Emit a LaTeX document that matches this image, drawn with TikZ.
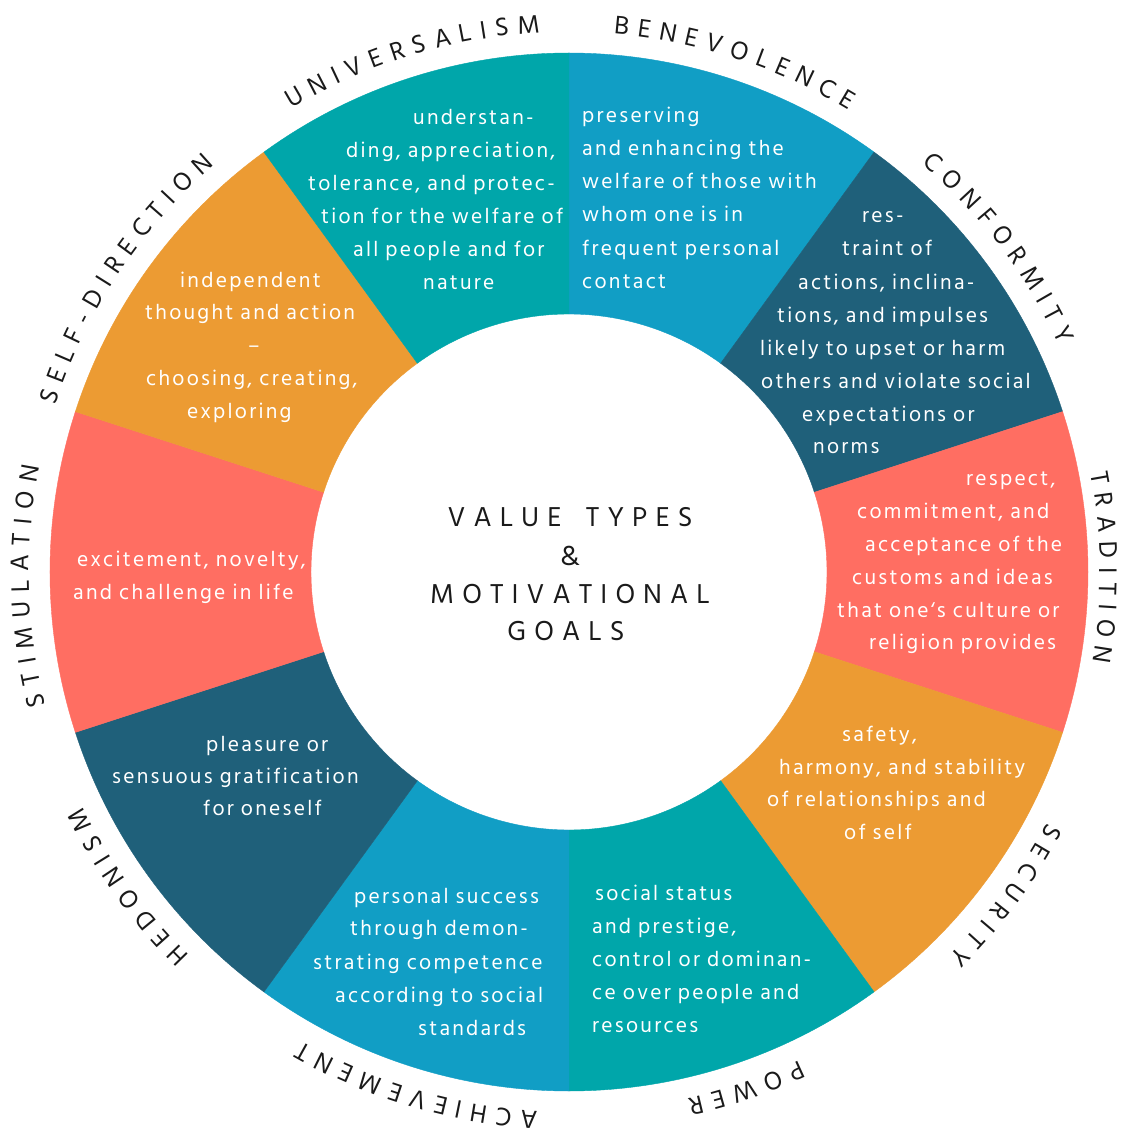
\documentclass[tikz,border=0pt]{standalone}
\usepackage{fontspec}
\newfontfamily\descfamily[LetterSpace=10.5]{Hind Siliguri}
\newfontfamily\titlefamily[LetterSpace=29]{Hind Siliguri}
\newfontfamily\ringfamily{Hind Siliguri}
\newcommand\labelfont{\ringfamily\fontsize{26}{26}\selectfont}

\definecolor{vteal}{RGB}{0,166,170}
\definecolor{vblue}{RGB}{17,158,197}
\definecolor{vdark}{RGB}{31,96,122}
\definecolor{vcoral}{RGB}{255,110,98}
\definecolor{vorange}{RGB}{236,155,51}
\definecolor{vink}{RGB}{26,26,26}

% widths of the capitals used along the ring, measured once
\makeatletter
\newbox\ringbox
\newcommand\measureletter[1]{%
  \setbox\ringbox=\hbox{\labelfont #1}%
  \expandafter\xdef\csname lw@#1\endcsname{\strip@pt\wd\ringbox}}
\makeatother
\AtBeginDocument{%
  \foreach \c in {A,B,C,D,E,F,G,H,I,J,K,L,M,N,O,P,Q,R,S,T,U,V,W,X,Y,Z,-}{%
    \measureletter{\c}}}

% letters set one by one along a clockwise arc outside the ring
\def\ringbase{540}
\def\ringtrack{8.5}
\newcommand\ringlabel[3]{% #1 name prefix, #2 middle angle, #3 letters
  \gdef\ringsum{0}%
  \foreach \ch in {#3}{%
    \edef\chw{\csname lw@\ch\endcsname}%
    \pgfmathsetmacro\rtmp{\ringsum+\chw+\ringtrack}%
    \global\let\ringsum\rtmp
  }%
  \pgfmathsetmacro\rtmp{-(\ringsum-\ringtrack)/2}%
  \global\let\ringpos\rtmp
  \foreach \ch [count=\k] in {#3}{%
    \edef\chw{\csname lw@\ch\endcsname}%
    \pgfmathsetmacro\chang{#2-(\ringpos+0.5*\chw)/\ringbase*57.29578}%
    \pgfmathsetmacro\chrot{\chang-90}%
    \node[ringchar, rotate=\chrot] (#1-\k) at (\chang:\ringbase pt) {\ch};
    \pgfmathsetmacro\rtmp{\ringpos+\chw+\ringtrack}%
    \global\let\ringpos\rtmp
  }%
}

\begin{document}
\begin{tikzpicture}[x=1pt,y=1pt,
  desc/.style={anchor=base west, inner sep=0pt, text=white,
    font=\descfamily\fontsize{21.5}{25}\selectfont},
  descmid/.style={desc, anchor=base},
  title/.style={anchor=base, inner sep=0pt, text=vink,
    font=\titlefamily\fontsize{28}{30}\selectfont},
  ringchar/.style={anchor=base, inner sep=0pt, text=vink, font=\labelfont},
  img/.style={shift={(-569pt,572pt)}, x=1pt, y=-1pt}]

\fill[white] (-569,-561) rectangle (562,572);
\path[use as bounding box] (-569,-561) rectangle (562,572);

% ring of ten sectors
\foreach \a/\c in {90/vblue,54/vdark,18/vcoral,-18/vorange,-54/vteal,
                   -90/vblue,-126/vdark,-162/vcoral,162/vorange,126/vteal}{
  \pgfmathsetmacro\b{\a-36}
  \filldraw[fill=\c, draw=\c, line width=0.4pt]
    (\a:258pt) -- (\a:519pt) arc[start angle=\a, end angle=\b, radius=519pt]
    -- (\b:258pt) arc[start angle=\b, end angle=\a, radius=258pt] -- cycle;
}

% value type names
\ringlabel{uni}{107}{U,N,I,V,E,R,S,A,L,I,S,M}
\ringlabel{ben}{72}{B,E,N,E,V,O,L,E,N,C,E}
\ringlabel{con}{37}{C,O,N,F,O,R,M,I,T,Y}
{\def\ringbase{531}\ringlabel{tra}{0.5}{T,R,A,D,I,T,I,O,N}}
\ringlabel{sec}{-36.5}{S,E,C,U,R,I,T,Y}
\ringlabel{pow}{-71}{P,O,W,E,R}
\ringlabel{ach}{-106.5}{A,C,H,I,E,V,E,M,E,N,T}
\ringlabel{hed}{-144.5}{H,E,D,O,N,I,S,M}
\ringlabel{sti}{181.5}{S,T,I,M,U,L,A,T,I,O,N}
\ringlabel{sd}{146.5}{S,E,L,F,-,D,I,R,E,C,T,I,O,N}

\begin{scope}[img]
% centre title
\node[title] (t1) at (570,526) {VALUE\hspace{10pt} TYPES};
\node[title] (t2) at (570,565) {\&};
\node[title] (t3) at (570,603) {MOTIVATIONAL};
\node[title] (t4) at (566,640) {GOALS};

% universalism
\node[desc] (uni-a) at (413,125) {understan-};
\node[desc] (uni-b) at (346,158) {ding, appreciation,};
\node[desc] (uni-c) at (308,191) {tolerance, and protec-};
\node[desc] (uni-d) at (321,224) {tion for the welfare of};
\node[desc] (uni-e) at (353,257) {all people and for};
\node[desc] (uni-f) at (423,290) {nature};

% benevolence
\node[desc] (ben-a) at (582,122.5) {preserving};
\node[desc] (ben-b) at (582,156) {and enhancing the};
\node[desc] (ben-c) at (582,189) {welfare of those with};
\node[desc] (ben-d) at (582,222) {whom one is in};
\node[desc] (ben-e) at (582,255.5) {frequent personal};
\node[desc] (ben-f) at (582,289) {contact};

% conformity
\node[desc] (con-a) at (862,222.7) {res-};
\node[desc] (con-b) at (842,256) {traint of};
\node[desc] (con-c) at (798,289.3) {actions, inclina-};
\node[desc] (con-d) at (777,322.7) {tions, and impulses};
\node[desc] (con-e) at (760,355.7) {likely to upset or harm};
\node[desc] (con-f) at (761,388.3) {others and violate social};
\node[desc] (con-g) at (802,421.7) {expectations or};
\node[desc] (con-h) at (813,454) {norms};

% tradition
\node[desc] (tra-a) at (966,485) {respect,};
\node[desc] (tra-b) at (857,518.3) {commitment, and};
\node[desc] (tra-c) at (865,551.7) {acceptance of the};
\node[desc] (tra-d) at (852,584.3) {customs and ideas};
\node[desc] (tra-e) at (837,617.3) {that one‘s culture or};
\node[desc] (tra-f) at (869,649.3) {religion provides};

% security
\node[desc] (sec-a) at (842,741.7) {safety,};
\node[desc] (sec-b) at (779,774.3) {harmony, and stability};
\node[desc] (sec-c) at (767,806.7) {of relationships and};
\node[desc] (sec-d) at (844,839.3) {of self};

% power
\node[desc] (pow-a) at (595,900.7) {social status};
\node[desc] (pow-b) at (592,933.3) {and prestige,};
\node[desc] (pow-c) at (592,966.7) {control or dominan-};
\node[desc] (pow-d) at (592,999.3) {ce over people and};
\node[desc] (pow-e) at (592,1032.3) {resources};

% achievement
\node[desc] (ach-a) at (354,903.3) {personal success};
\node[desc] (ach-b) at (350,935.7) {through demon-};
\node[desc] (ach-c) at (313,969.3) {strating competence};
\node[desc] (ach-d) at (335,1002.7) {according to social};
\node[desc] (ach-e) at (418,1035.7) {standards};

% hedonism
\node[desc] (hed-a) at (206,751.7) {pleasure or};
\node[desc] (hed-b) at (112,783.3) {sensuous gratification};
\node[desc] (hed-c) at (203,815) {for oneself};

% self-direction
\node[desc] (sd-a) at (180,287.3) {independent};
\node[desc] (sd-b) at (145,320) {thought and action};
\node[descmid] (sd-c) at (254,353) {–};
\node[desc] (sd-d) at (146,386) {choosing, creating,};
\node[desc] (sd-e) at (187,418.3) {exploring};

% stimulation
\node[desc] (sti-a) at (77,566.7) {excitement, novelty,};
\node[desc] (sti-b) at (73,599.3) {and challenge in life};
\end{scope}
\end{tikzpicture}
\end{document}
